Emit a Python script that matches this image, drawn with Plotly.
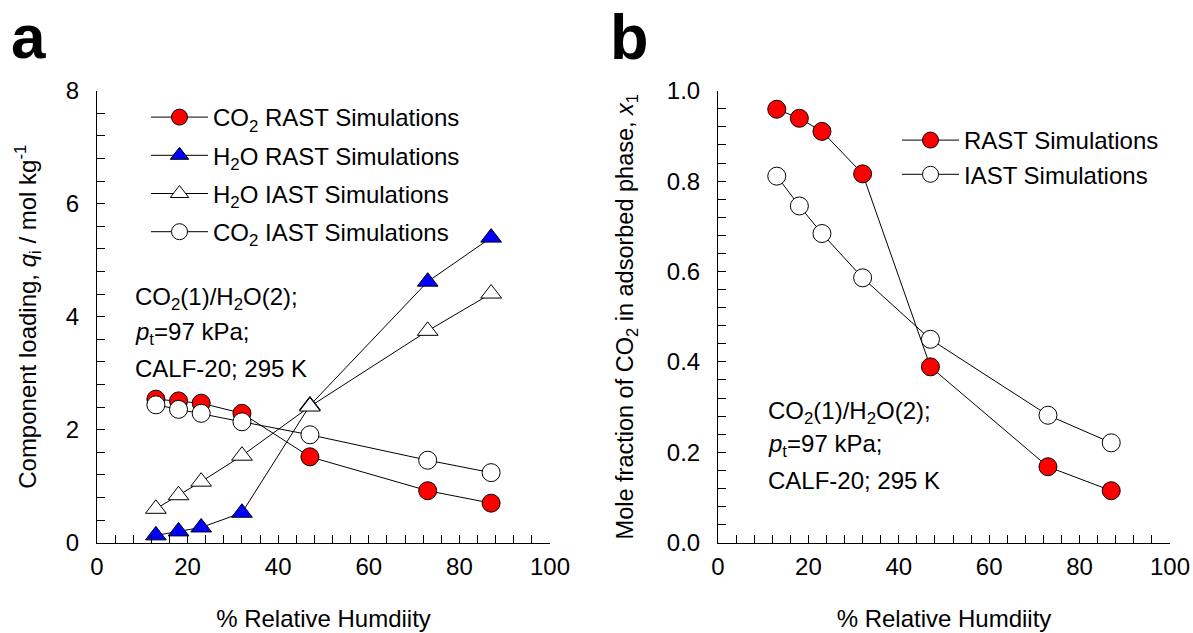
import plotly.graph_objects as go

W, H = 1193, 633

rh = [13, 18, 23, 32, 47, 73, 87]

# panel a: component loadings (mol/kg)
co2_rast = [2.54, 2.51, 2.47, 2.29, 1.52, 0.92, 0.70]
h2o_rast = [0.13, 0.20, 0.27, 0.53, 2.43, 4.62, 5.40]
h2o_iast = [0.60, 0.84, 1.08, 1.54, 2.41, 3.75, 4.41]
co2_iast = [2.44, 2.36, 2.29, 2.14, 1.91, 1.46, 1.24]

# panel b: mole fraction CO2 in adsorbed phase
x1_rast = [0.959, 0.939, 0.910, 0.816, 0.389, 0.168, 0.115]
x1_iast = [0.811, 0.745, 0.684, 0.586, 0.450, 0.282, 0.221]

FONT = "Liberation Sans, Arial, sans-serif"
FS = 24

fig = go.Figure()

def add(x, y, name, symbol, color, xa, ya, legend, size=18):
    fig.add_trace(go.Scatter(
        x=x, y=y, name=name, mode="lines+markers",
        line=dict(color="black", width=1),
        marker=dict(symbol=symbol, size=size, color=color,
                    line=dict(color="black", width=1)),
        xaxis=xa, yaxis=ya, legend=legend, legendgroup=name + xa,
        cliponaxis=False, showlegend=True,
    ))

add(rh, co2_rast, "CO<sub>2</sub> RAST Simulations", "circle", "red", "x", "y", "legend")
add(rh, h2o_rast, "H<sub>2</sub>O RAST Simulations", "triangle-up", "blue", "x", "y", "legend")
add(rh, h2o_iast, "H<sub>2</sub>O IAST Simulations", "triangle-up", "white", "x", "y", "legend")
add(rh, co2_iast, "CO<sub>2</sub> IAST Simulations", "circle", "white", "x", "y", "legend")

add(rh, x1_rast, "RAST Simulations", "circle", "red", "x2", "y2", "legend2")
add(rh, x1_iast, "IAST Simulations", "circle", "white", "x2", "y2", "legend2")

ydom = [(H - 542.7) / H, (H - 90.7) / H]

def xaxis(dom):
    return dict(domain=dom, range=[0, 100], dtick=20, tick0=0,
                showline=True, linecolor="black", linewidth=1, mirror=False,
                ticks="inside", ticklen=8, tickcolor="black", tickwidth=1,
                minor=dict(dtick=4, ticks="inside", ticklen=8, tickcolor="black", tickwidth=1),
                showgrid=False, zeroline=False, ticklabelstandoff=2,
                tickfont=dict(family=FONT, size=FS, color="black"),
                title=dict(text="% Relative Humdiity", standoff=31,
                           font=dict(family=FONT, size=FS, color="black")))

lay = dict(
    width=W, height=H, margin=dict(l=0, r=0, t=0, b=0, autoexpand=False),
    paper_bgcolor="white", plot_bgcolor="white",
    font=dict(family=FONT, size=FS, color="black"),
)
fig.update_layout(**lay)

fig.update_layout(
    xaxis=xaxis([97 / W, 550 / W]),
    xaxis2=dict(xaxis([718 / W, 1170 / W]), anchor="y2"),
    yaxis=dict(domain=ydom, range=[0, 8], dtick=2, tick0=0,
               showline=True, linecolor="black", linewidth=1,
               ticks="inside", ticklen=8, tickcolor="black",
               minor=dict(dtick=0.4, ticks="inside", ticklen=8, tickcolor="black"),
               showgrid=False, zeroline=False, ticklabelstandoff=12,
               tickfont=dict(family=FONT, size=FS, color="black"),
               title=dict(text="Component loading, <i>q</i><sub>i</sub> / mol kg<sup>-1</sup>",
                          standoff=22, font=dict(family=FONT, size=FS, color="black"))),
    yaxis2=dict(domain=ydom, range=[0, 1], dtick=0.2, tick0=0, tickformat=".1f",
                anchor="x2",
                showline=True, linecolor="black", linewidth=1,
                ticks="inside", ticklen=8, tickcolor="black",
                minor=dict(dtick=0.04, ticks="inside", ticklen=8, tickcolor="black"),
                showgrid=False, zeroline=False, ticklabelstandoff=12,
                tickfont=dict(family=FONT, size=FS, color="black"),
                title=dict(text="Mole fraction of CO<sub>2</sub> in adsorbed phase, <i>x</i><sub>1</sub>",
                           standoff=26, font=dict(family=FONT, size=23.5, color="black"))),
    legend=dict(x=146 / W, y=(H - 95) / H, xanchor="left", yanchor="top",
                bgcolor="rgba(0,0,0,0)", itemwidth=57, tracegroupgap=4,
                font=dict(family=FONT, size=FS, color="black"), itemsizing="trace"),
    legend2=dict(x=897 / W, y=(H - 118) / H, xanchor="left", yanchor="top",
                 bgcolor="rgba(0,0,0,0)", itemwidth=57, tracegroupgap=0,
                 font=dict(family=FONT, size=FS, color="black"), itemsizing="trace"),
)

# panel labels
fig.add_annotation(text="<b>a</b>", x=9 / W, y=1.0, xref="paper", yref="paper",
                   xanchor="left", yanchor="top",
                   showarrow=False, font=dict(family=FONT, size=62, color="black"))
fig.add_annotation(text="<b>b</b>", x=608 / W, y=1.0, xref="paper", yref="paper",
                   xanchor="left", yanchor="top",
                   showarrow=False, font=dict(family=FONT, size=63, color="black"))

# condition notes
notes = ["CO<sub>2</sub>(1)/H<sub>2</sub>O(2);", "<i>p</i><sub>t</sub>=97 kPa;", "CALF-20; 295 K"]
for i, t in enumerate(notes):
    fig.add_annotation(text=t, x=133 / W, y=1 - (298 + 35 * i) / H, xref="paper", yref="paper",
                       xanchor="left", showarrow=False,
                       font=dict(family=FONT, size=FS, color="black"))
    fig.add_annotation(text=t, x=766 / W, y=1 - (430 + 33 * i) / H, xref="paper", yref="paper",
                       xanchor="left", showarrow=False,
                       font=dict(family=FONT, size=FS, color="black"))

fig.write_html("out.html")
